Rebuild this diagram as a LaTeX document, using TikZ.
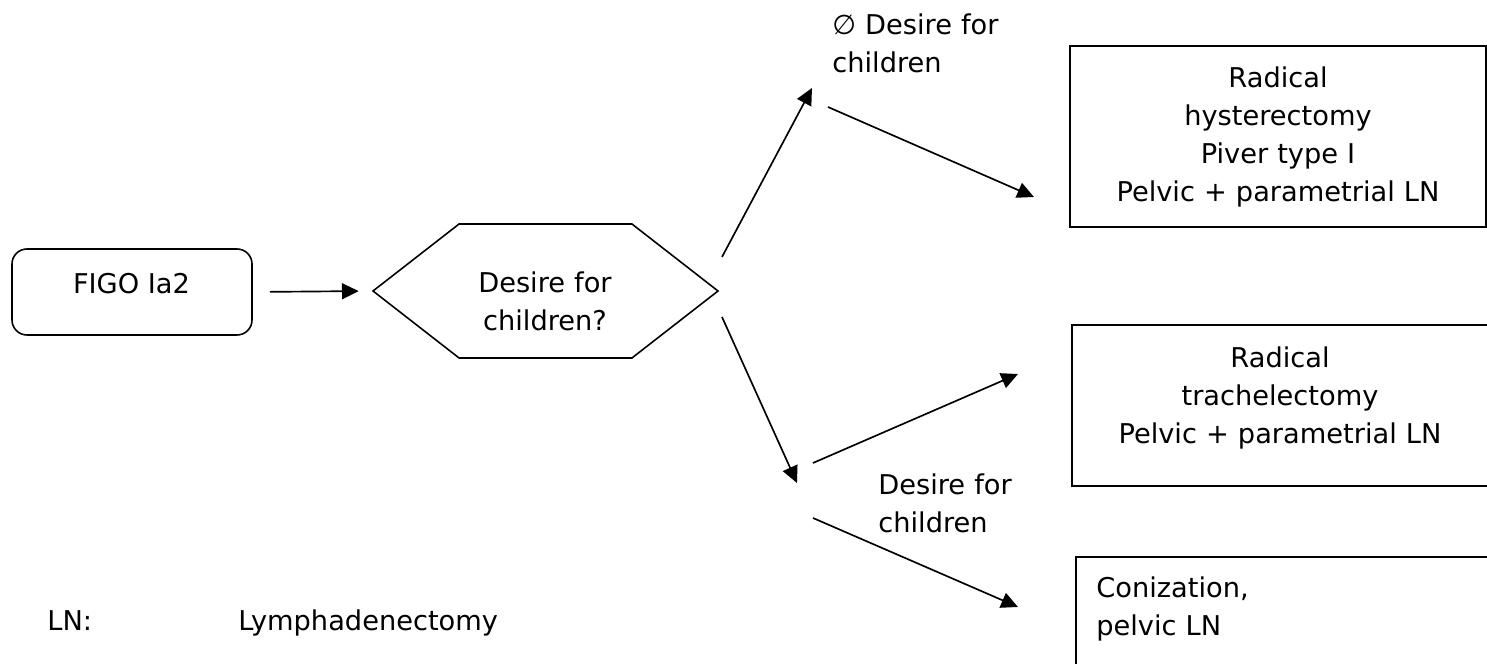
\documentclass[tikz,border=0pt]{standalone}
\usepackage{fontspec}
\setmainfont{DejaVu Sans}
\usetikzlibrary{arrows.meta,shapes.symbols}

\begin{document}
\begin{tikzpicture}[scale=0.2]
	\tikzstyle{every node}+=[inner sep=0pt, font=\fontsize{15.5}{21.5}\selectfont]
	\tikzstyle{boxnode}=[draw=black, line width=0.9pt, rectangle]
	\tikzstyle{textnode}=[text width=8cm, align=center, anchor=base]
	\tikzstyle{labelnode}=[text width=5cm, align=left, anchor=base west]
	\tikzstyle{arrowline}=[black, line width=0.95pt, -{Triangle[length=9.5pt,width=9pt]}]
	\useasboundingbox (0,0) rectangle (148.7,-66.4);
	% shapes
	\node [boxnode, rounded corners=0.3cm, minimum width=4.8cm, minimum height=1.72cm] (figo) at (13.2,-29.2) {};
	\node [boxnode, signal, signal to=west and east, signal pointer angle=75.8, minimum width=6.9cm, minimum height=2.68cm] (ask) at (54.55,-29.1) {};
	\node [boxnode, minimum width=8.32cm, minimum height=3.62cm] (hyst) at (127.8,-13.65) {};
	\node [boxnode, minimum width=8.4cm, minimum height=3.22cm] (trach) at (128.2,-40.55) {};
	\node [boxnode, minimum width=8.32cm, minimum height=2.26cm] (coniz) at (128.4,-61.35) {};
	% texts
	\node [anchor=base] (figo-txt) at (13.15,-29.4) {FIGO Ia2};
	\node [textnode, text width=5cm] (ask-txt) at (54.5,-29.3) {Desire for\\children?};
	\node [textnode] (hyst-txt) at (127.8,-8.8) {Radical\\hysterectomy\\Piver type I\\Pelvic + parametrial LN};
	\node [textnode] (trach-txt) at (128.0,-36.8) {Radical\\trachelectomy\\Pelvic + parametrial LN};
	\node [labelnode] (coniz-txt) at (109.6,-59.8) {Conization,\\pelvic LN};
	\node [labelnode] (nodesire) at (83.2,-3.5) {∅ Desire for\\children};
	\node [labelnode] (desire) at (87.8,-49.5) {Desire for\\children};
	\node [anchor=base west] (ln) at (4.7,-63.1) {LN:};
	\node [anchor=base west] (ln-long) at (23.8,-63.1) {Lymphadenectomy};
	% arrow ends
	\coordinate (up-a) at (72.2,-25.7);
	\coordinate (up-b) at (81.2,-8.8);
	\coordinate (hy-a) at (82.8,-10.7);
	\coordinate (hy-b) at (103.4,-19.7);
	\coordinate (dn-a) at (72.2,-31.7);
	\coordinate (dn-b) at (79.7,-48.3);
	\coordinate (tr-a) at (81.3,-46.3);
	\coordinate (tr-b) at (101.8,-37.4);
	\coordinate (co-a) at (81.3,-51.8);
	\coordinate (co-b) at (101.8,-60.7);
	% arrows
	\draw [arrowline, shorten <=0.34cm, shorten >=0.26cm] (figo.east) -- (ask.west);
	\draw [arrowline] (up-a) -- (up-b);
	\draw [arrowline] (hy-a) -- (hy-b);
	\draw [arrowline] (dn-a) -- (dn-b);
	\draw [arrowline] (tr-a) -- (tr-b);
	\draw [arrowline] (co-a) -- (co-b);
\end{tikzpicture}
\end{document}
